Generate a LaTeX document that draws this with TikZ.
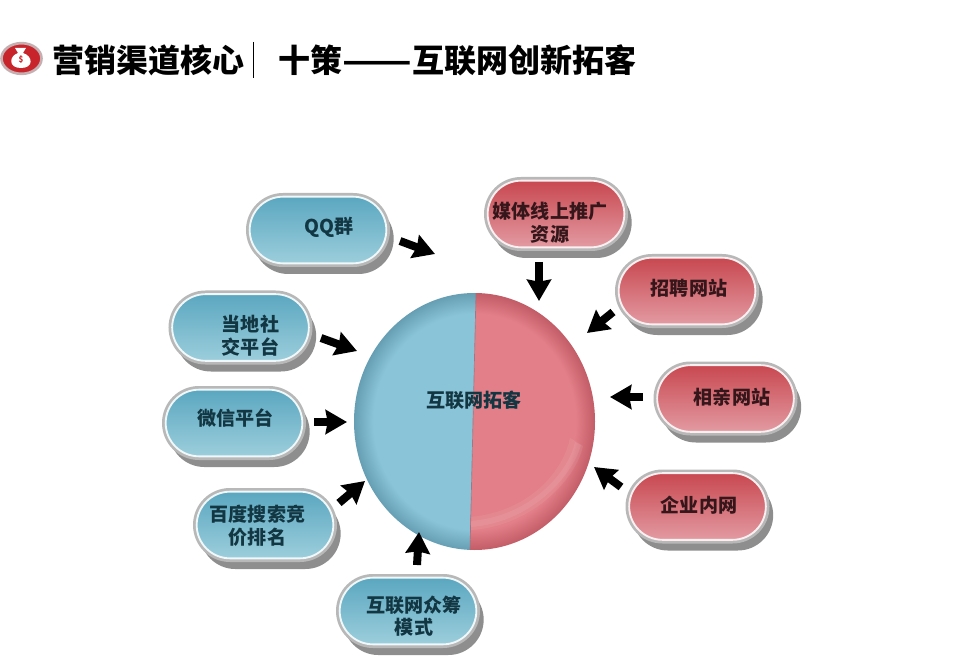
\documentclass[tikz,border=0pt]{standalone}
\usepackage{fontspec}
\setmainfont{Noto Sans CJK SC}
\usetikzlibrary{arrows.meta,shadows,shapes.geometric}
\definecolor{rimgray}{HTML}{B8B8B8}
\definecolor{shadowgray}{HTML}{8E8E8E}
\definecolor{pillblueA}{HTML}{5BA7C0}
\definecolor{pillblueB}{HTML}{9CCEDC}
\definecolor{pillredA}{HTML}{C84850}
\definecolor{pillredB}{HTML}{E39AA2}
\definecolor{hubblue}{HTML}{8AC4D8}
\definecolor{hubblueedge}{HTML}{669FB3}
\definecolor{hubred}{HTML}{E37F88}
\definecolor{hubrededge}{HTML}{C25C66}
\definecolor{logored}{HTML}{C8242B}
\definecolor{inktext}{HTML}{123642}
\definecolor{redink}{HTML}{35161A}
\pgfdeclareradialshading{hubleft}{\pgfpoint{0bp}{0bp}}{color(0bp)=(hubblue); color(21bp)=(hubblue); color(25bp)=(hubblueedge); color(50bp)=(hubblueedge)}
\pgfdeclareradialshading{hubright}{\pgfpoint{0bp}{0bp}}{color(0bp)=(hubred); color(21bp)=(hubred); color(25bp)=(hubrededge); color(50bp)=(hubrededge)}
\tikzset{
  pill/.style={rectangle, rounded corners=25pt, minimum width=102.5pt, minimum height=50pt, inner sep=0pt,
    general shadow={draw=shadowgray, fill=shadowgray, line width=3pt, shadow xshift=4pt, shadow yshift=-6.5pt},
    preaction={draw=rimgray, line width=5.5pt}},
  bluepill/.style={pill, draw=white!85!pillblueB, line width=1.4pt, top color=pillblueA, bottom color=pillblueB},
  redpill/.style={pill, draw=white!85!pillredB, line width=1.4pt, top color=pillredA, bottom color=pillredB},
  pilltext/.style={align=center, inner sep=0pt, text=inktext, font=\fontsize{14.3pt}{17pt}\selectfont\bfseries},
  redtext/.style={pilltext, text=redink},
  titletext/.style={anchor=west, inner sep=0pt, text=black, font=\fontsize{24pt}{28pt}\selectfont\bfseries},
  push/.style={-{Stealth[length=16pt, width=18pt, inset=1.5pt]}, line width=6pt, black},
}
\begin{document}
\begin{tikzpicture}[x=0.75pt, y=-0.75pt]
\useasboundingbox (0,0) rectangle (960,659);
\node[ellipse, draw=rimgray!70!pillredB, line width=2pt, fill=logored, minimum width=30pt, minimum height=23pt, inner sep=0pt] (logo) at (21.5,58.5) {};
\fill[white] (15,48) -- (26,48) -- (23,53) .. controls (33,56) and (34,68) .. (21,68) .. controls (8,68) and (9,56) .. (18,53) -- cycle;
\node[inner sep=0pt, text=logored, font=\fontsize{6pt}{6pt}\selectfont\bfseries] (logosign) at (21,60) {\$};
\node[titletext] (brand) at (52,60) {营销渠道核心};
\coordinate (bartop) at (253,42);
\coordinate (barbottom) at (253,78);
\draw[black, line width=0.6pt] (bartop) -- (barbottom);
\node[titletext] (headline) at (278,60) {十策\scalebox{1.27}[1]{——}互联网创新拓客};
\begin{scope}
\clip (300,280) -- (476,280) -- (476,293) -- (470,550) -- (470,560) -- (300,560) -- cycle;
\path[shading=hubleft] (474.5,421.5) ellipse (120.5 and 128.5);
\end{scope}
\begin{scope}
\clip (650,280) -- (476,280) -- (476,293) -- (470,550) -- (470,560) -- (650,560) -- cycle;
\path[shading=hubright] (474.5,421.5) ellipse (120.5 and 128.5);
\fill[white, opacity=0.07] (570,438) .. controls (564,470) and (530,512) .. (470,517) -- (470,530) .. controls (530,527) and (576,480) .. (583,446) -- cycle;
\fill[white, opacity=0.07] (575,442) .. controls (569,472) and (530,517) .. (470,521) -- (470,527) .. controls (530,523) and (572,477) .. (581,445) -- cycle;
\end{scope}
\coordinate (seamtop) at (476,293);
\coordinate (seambottom) at (470,550);
\draw[hubrededge!60!hubblueedge, line width=0.5pt] (seamtop) -- (seambottom);
\node[ellipse, minimum width=180.75pt, minimum height=192.75pt, inner sep=0pt] (hub) at (474.5,421.5) {};
\node[pilltext] (hubtext) at (474,400) {互联网拓客};
\node[bluepill] (qq) at (318,230) {};
\node[pilltext] (qqtext) at (329,227) {QQ群};
\node[redpill] (media) at (556,214) {};
\node[redtext] (mediatext) at (550,223) {媒体线上推广\\资源};
\node[redpill] (hire) at (687,291) {};
\node[redtext] (hiretext) at (689,288) {招聘网站};
\node[redpill] (dating) at (725.5,398.5) {};
\node[redtext] (datingtext) at (732,397) {相亲网站};
\node[redpill] (intranet) at (697.5,506.5) {};
\node[redtext] (intranettext) at (699,505) {企业内网};
\node[bluepill] (social) at (240.5,327.5) {};
\node[pilltext] (socialtext) at (250.5,335.5) {当地社\\交平台};
\node[bluepill] (wechat) at (234,423) {};
\node[pilltext] (wechattext) at (235.5,418.5) {微信平台};
\node[bluepill] (baidu) at (265,525) {};
\node[pilltext] (baidutext) at (257.5,526) {百度搜索竞\\价排名};
\node[bluepill] (crowd) at (408,611) {};
\node[pilltext] (crowdtext) at (414,616) {互联网众筹\\模式};
\coordinate (qqtail) at (400,241);
\coordinate (qqtip) at (435,254);
\coordinate (mediatail) at (539,262);
\coordinate (mediatip) at (539,301);
\coordinate (hiretail) at (613,312);
\coordinate (hiretip) at (587,333);
\coordinate (datingtail) at (643,397);
\coordinate (datingtip) at (610,397);
\coordinate (intranettail) at (621,487);
\coordinate (intranettip) at (594,467);
\coordinate (socialtail) at (321,338);
\coordinate (socialtip) at (357,351);
\coordinate (wechattail) at (314,422);
\coordinate (wechattip) at (347,422);
\coordinate (baidutail) at (339,503);
\coordinate (baidutip) at (365,481);
\coordinate (crowdtail) at (417,565);
\coordinate (crowdtip) at (419,532);
\draw[push] (qqtail) -- (qqtip);
\draw[push] (mediatail) -- (mediatip);
\draw[push] (hiretail) -- (hiretip);
\draw[push] (datingtail) -- (datingtip);
\draw[push] (intranettail) -- (intranettip);
\draw[push] (socialtail) -- (socialtip);
\draw[push] (wechattail) -- (wechattip);
\draw[push] (baidutail) -- (baidutip);
\draw[push] (crowdtail) -- (crowdtip);
\end{tikzpicture}
\end{document}
